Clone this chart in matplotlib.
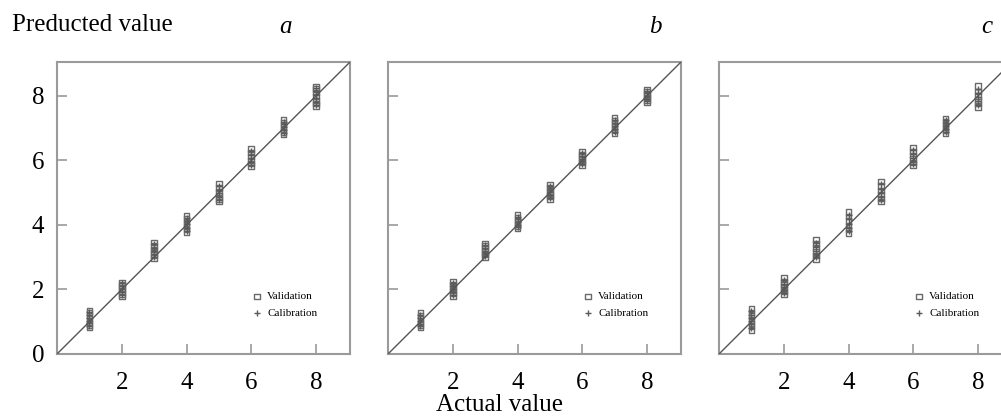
import matplotlib
matplotlib.use("Agg")
import matplotlib.pyplot as plt

plt.rcParams['font.family'] = ['Liberation Serif', 'DejaVu Serif']

# actual values (x positions of the clusters)
actual = [1, 2, 3, 4, 5, 6, 7, 8]

# predicted values per actual value
val_a = [[0.82, 0.90, 0.98, 1.08, 1.18, 1.28, 1.35], [1.78, 1.86, 1.95, 2.05, 2.14, 2.22],
         [2.98, 3.06, 3.15, 3.24, 3.34, 3.45], [3.78, 3.86, 3.96, 4.06, 4.18, 4.28],
         [4.72, 4.80, 4.90, 5.02, 5.15, 5.28], [5.82, 5.90, 6.00, 6.12, 6.24, 6.35],
         [6.80, 6.88, 6.97, 7.06, 7.16, 7.25], [7.68, 7.76, 7.86, 7.98, 8.10, 8.22, 8.28]]
cal_a = [[0.88, 0.95, 1.02, 1.12, 1.22, 1.30], [1.82, 1.92, 2.00, 2.10, 2.20],
         [3.02, 3.10, 3.20, 3.30, 3.40], [3.82, 3.92, 4.02, 4.12, 4.22],
         [4.78, 4.88, 4.98, 5.08, 5.20], [5.86, 5.96, 6.06, 6.16, 6.28],
         [6.85, 6.93, 7.02, 7.12, 7.20], [7.72, 7.82, 7.92, 8.04, 8.15, 8.24]]

val_b = [[0.82, 0.90, 0.98, 1.08, 1.18, 1.28], [1.80, 1.88, 1.97, 2.06, 2.16, 2.25],
         [3.00, 3.08, 3.16, 3.25, 3.34, 3.42], [3.90, 3.97, 4.05, 4.13, 4.22, 4.30],
         [4.80, 4.88, 4.96, 5.06, 5.16, 5.25], [5.85, 5.93, 6.01, 6.10, 6.19, 6.28],
         [6.85, 6.94, 7.03, 7.12, 7.22, 7.32], [7.80, 7.87, 7.95, 8.03, 8.12, 8.20]]
cal_b = [[0.86, 0.94, 1.02, 1.12, 1.22], [1.84, 1.93, 2.02, 2.11, 2.20],
         [3.04, 3.12, 3.20, 3.29, 3.38], [3.93, 4.01, 4.09, 4.18, 4.26],
         [4.84, 4.92, 5.01, 5.10, 5.20], [5.88, 5.97, 6.05, 6.14, 6.24],
         [6.88, 6.97, 7.07, 7.17, 7.26], [7.83, 7.91, 7.99, 8.08, 8.16]]

val_c = [[0.75, 0.85, 0.95, 1.06, 1.17, 1.28, 1.40], [1.85, 1.94, 2.04, 2.14, 2.24, 2.35],
         [2.95, 3.05, 3.16, 3.28, 3.42, 3.55], [3.75, 3.86, 3.98, 4.12, 4.26, 4.40],
         [4.72, 4.82, 4.94, 5.07, 5.20, 5.35], [5.85, 5.94, 6.04, 6.15, 6.27, 6.40],
         [6.85, 6.93, 7.02, 7.11, 7.20, 7.30], [7.65, 7.76, 7.88, 8.00, 8.14, 8.30]]
cal_c = [[0.82, 0.92, 1.02, 1.12, 1.22, 1.32], [1.90, 1.98, 2.08, 2.18, 2.28],
         [3.00, 3.10, 3.20, 3.32, 3.45], [3.80, 3.92, 4.04, 4.18, 4.32],
         [4.78, 4.88, 5.00, 5.12, 5.26], [5.90, 5.99, 6.09, 6.19, 6.32],
         [6.88, 6.97, 7.06, 7.15, 7.24], [7.72, 7.84, 7.96, 8.08, 8.22]]

panels = [("a", val_a, cal_a), ("b", val_b, cal_b), ("c", val_c, cal_c)]
lims = (0, 9.05)

W, H = 1001, 416
fig = plt.figure(figsize=(W / 100, H / 100), dpi=100)

lefts = [57, 388, 719]
spine_col = '#9a9a9a'
for i, (letter, val, cal) in enumerate(panels):
    ax = fig.add_axes([lefts[i] / W, (H - 354) / H, 293 / W, 292 / H])
    ax.plot(lims, lims, color='#555555', lw=1.0, zorder=3)
    for x, vs, cs in zip(actual, val, cal):
        ax.scatter([x] * len(vs), vs, marker='s', s=16, facecolors='none',
                   edgecolors='#6a6a6a', linewidths=1.0, zorder=2,
                   label='Validation' if x == 1 else None)
        ax.scatter([x] * len(cs), cs, marker='+', s=20, color='#5a5a5a',
                   linewidths=1.0, zorder=2,
                   label='Calibration' if x == 1 else None)
    ax.set_xlim(lims)
    ax.set_ylim(lims)
    ax.set_xticks([2, 4, 6, 8])
    ax.set_yticks([0, 2, 4, 6, 8] if i == 0 else [2, 4, 6, 8])
    ax.tick_params(direction='in', length=7, width=1.2, color=spine_col,
                   labelsize=18, pad=6)
    ax.tick_params(axis='x', pad=13)
    ax.tick_params(axis='y', pad=9)
    if i > 0:
        ax.set_yticklabels([])
    for sp in ax.spines.values():
        sp.set_color(spine_col)
        sp.set_linewidth(1.5)
    ax.legend(loc='lower left', bbox_to_anchor=(0.63, 0.09), frameon=False,
              fontsize=8, handletextpad=0.4, labelspacing=0.6,
              handlelength=1.0, scatterpoints=1)
    fig.text([285, 655, 987][i] / W, 1 - 27 / H, letter, style='italic',
             fontsize=18, ha='center', va='center')

fig.text(12 / W, 1 - 25 / H, "Preducted value", fontsize=18, ha='left', va='center')
fig.text(500 / W, 1 - 405 / H, "Actual value", fontsize=18, ha='center', va='center')

fig.savefig("out.png", dpi=100)
